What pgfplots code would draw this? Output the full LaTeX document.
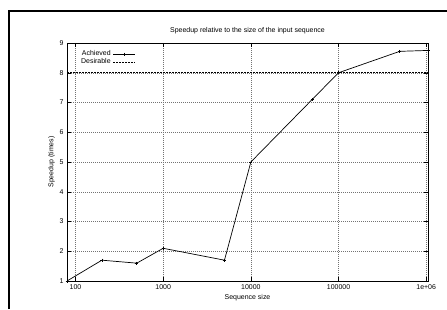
\documentclass[border=0pt]{standalone}
\usepackage{fontspec}
\setmainfont{Liberation Sans}
\usepackage{pgfplots}
\pgfplotsset{compat=1.18}
\begin{document}
\begin{tikzpicture}[x=1bp,y=1bp]
\useasboundingbox (0,0) rectangle (447,309);
\draw[line width=2bp] (9,0) -- (9,298) -- (447,298);
\begin{axis}[
  at={(67bp,28bp)}, anchor=south west,
  scale only axis, width=361bp, height=238bp,
  xmode=log, xmin=80, xmax=1048576,
  ymin=1, ymax=9, ytick={1,...,9},
  xtick={100,1000,10000,100000,1000000},
  xticklabels={100,1000,10000,100000,1e+06},
  log basis x=10,
  grid=major,
  major grid style={dash pattern=on 0.8bp off 1.2bp, line width=0.5pt, black!55},
  tick align=inside,
  major tick length=4bp, minor tick length=2bp,
  axis line style={line width=0.8pt},
  tick style={black, line width=0.5pt},
  ticklabel style={font=\fontsize{7}{8}\selectfont},
  /pgf/number format/assume math mode=true,
  title={Speedup relative to the size of the input sequence},
  title style={font=\fontsize{7}{8}\selectfont, yshift=0bp},
  xlabel={Sequence size},
  ylabel={Speedup (times)},
  label style={font=\fontsize{7}{8}\selectfont},
  xlabel style={yshift=2bp},
  ylabel style={yshift=-2bp},
  legend style={at={(0.025,0.985)}, anchor=north west, draw=none, fill=none,
    font=\fontsize{7}{7.5}\selectfont, row sep=-2.5bp,
    legend plot pos=right},
  legend cell align=right,
  legend image code/.code={\draw[mark repeat=2,mark phase=2,#1] plot coordinates {(0bp,0bp) (11bp,0bp) (22bp,0bp)};},
]
\addplot[black, line width=0.7pt, mark=+, mark size=1.5pt] coordinates {
 (80,1) (200,1.7) (500,1.6) (1000,2.1) (5000,1.7) (10000,5)
 (50000,7.1) (100000,8) (500000,8.72) (1048576,8.75)
};
\addlegendentry{Achieved}
\addplot[black, line width=0.6pt, dash pattern=on 2bp off 1bp] coordinates {(80,8) (1048576,8)};
\addlegendentry{Desirable}
\end{axis}
\end{tikzpicture}
\end{document}
